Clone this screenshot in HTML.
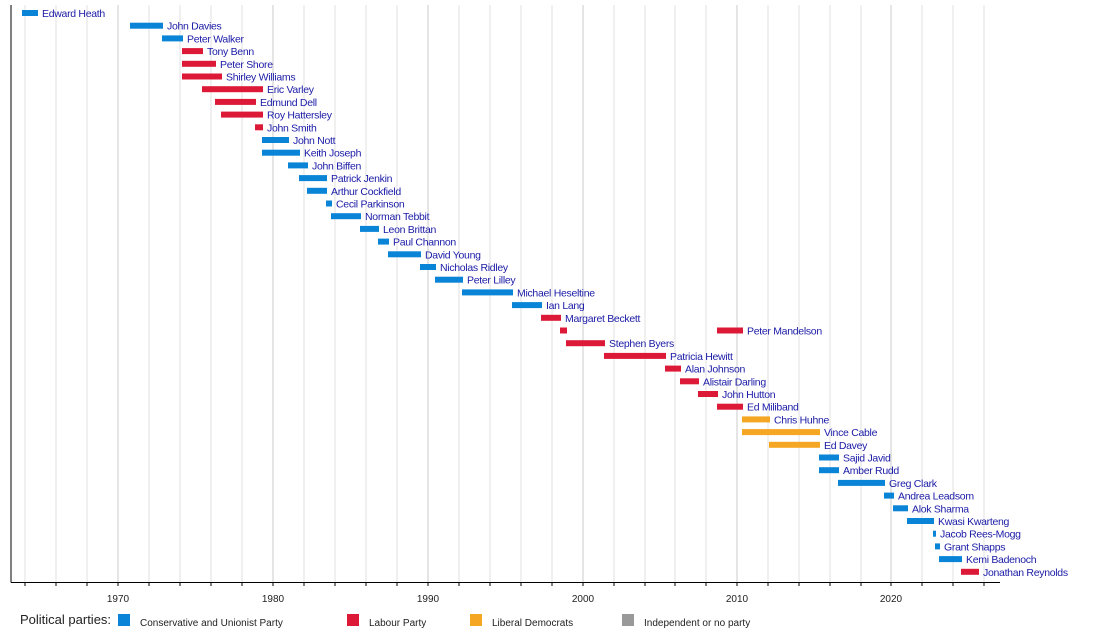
<!DOCTYPE html>
<html><head><meta charset="utf-8"><style>
body{margin:0;background:#fff;}
svg{display:block;font-family:"Liberation Sans",sans-serif;}
.l{font-size:10.5px;fill:#1a1aa6;letter-spacing:-0.3px}
.b{fill:#0a84d6}.r{fill:#dc1a37}.o{fill:#f5a623}
</style></head><body>
<svg width="1100" height="632" viewBox="0 0 1100 632">
<g stroke="#e2e2e2" stroke-width="1">
<line x1="25" y1="5" x2="25" y2="582"/><line x1="56" y1="5" x2="56" y2="582"/><line x1="87" y1="5" x2="87" y2="582"/>
<line x1="149" y1="5" x2="149" y2="582"/><line x1="180" y1="5" x2="180" y2="582"/><line x1="211" y1="5" x2="211" y2="582"/><line x1="242" y1="5" x2="242" y2="582"/>
<line x1="304" y1="5" x2="304" y2="582"/><line x1="335" y1="5" x2="335" y2="582"/><line x1="366" y1="5" x2="366" y2="582"/><line x1="397" y1="5" x2="397" y2="582"/>
<line x1="459" y1="5" x2="459" y2="582"/><line x1="490" y1="5" x2="490" y2="582"/><line x1="521" y1="5" x2="521" y2="582"/><line x1="552" y1="5" x2="552" y2="582"/>
<line x1="614" y1="5" x2="614" y2="582"/><line x1="645" y1="5" x2="645" y2="582"/><line x1="675" y1="5" x2="675" y2="582"/><line x1="706" y1="5" x2="706" y2="582"/>
<line x1="768" y1="5" x2="768" y2="582"/><line x1="799" y1="5" x2="799" y2="582"/><line x1="830" y1="5" x2="830" y2="582"/><line x1="861" y1="5" x2="861" y2="582"/>
<line x1="922" y1="5" x2="922" y2="582"/><line x1="953" y1="5" x2="953" y2="582"/><line x1="984" y1="5" x2="984" y2="582"/>
</g>
<g stroke="#cbcbcb" stroke-width="1">
<line x1="118" y1="5" x2="118" y2="582"/><line x1="273" y1="5" x2="273" y2="582"/><line x1="428" y1="5" x2="428" y2="582"/><line x1="583" y1="5" x2="583" y2="582"/><line x1="737" y1="5" x2="737" y2="582"/><line x1="891" y1="5" x2="891" y2="582"/>
</g>
<g stroke="#000" stroke-width="1">
<line x1="11" y1="5" x2="11" y2="582.5"/><line x1="11" y1="582.5" x2="1000" y2="582.5"/>
<path d="M25 582v4M56 582v4M87 582v4M118 582v4M149 582v4M180 582v4M211 582v4M242 582v4M273 582v4M304 582v4M335 582v4M366 582v4M397 582v4M428 582v4M459 582v4M490 582v4M521 582v4M552 582v4M583 582v4M614 582v4M645 582v4M675 582v4M706 582v4M737 582v4M768 582v4M799 582v4M830 582v4M861 582v4M891 582v4M922 582v4M953 582v4M984 582v4"/>
</g>
<g font-size="10" fill="#222" text-anchor="middle">
<text x="118" y="602">1970</text><text x="273" y="602">1980</text><text x="428" y="602">1990</text><text x="583" y="602">2000</text><text x="737" y="602">2010</text><text x="891" y="602">2020</text>
</g>
<g>
<rect class="b" x="22" y="10" width="16" height="6"/><text class="l" x="42" y="17">Edward Heath</text>
<rect class="b" x="130" y="22.7" width="33" height="6"/><text class="l" x="167" y="29.7">John Davies</text>
<rect class="b" x="162" y="35.4" width="21" height="6"/><text class="l" x="187" y="42.4">Peter Walker</text>
<rect class="r" x="182" y="48.1" width="21" height="6"/><text class="l" x="207" y="55.1">Tony Benn</text>
<rect class="r" x="182" y="60.8" width="34" height="6"/><text class="l" x="220" y="67.8">Peter Shore</text>
<rect class="r" x="182" y="73.5" width="40" height="6"/><text class="l" x="226" y="80.5">Shirley Williams</text>
<rect class="r" x="202" y="86.2" width="61" height="6"/><text class="l" x="267" y="93.2">Eric Varley</text>
<rect class="r" x="215" y="98.9" width="41" height="6"/><text class="l" x="260" y="105.9">Edmund Dell</text>
<rect class="r" x="221" y="111.6" width="42" height="6"/><text class="l" x="267" y="118.6">Roy Hattersley</text>
<rect class="r" x="255" y="124.3" width="8" height="6"/><text class="l" x="267" y="131.3">John Smith</text>
<rect class="b" x="262" y="137" width="27" height="6"/><text class="l" x="293" y="144">John Nott</text>
<rect class="b" x="262" y="149.7" width="38" height="6"/><text class="l" x="304" y="156.7">Keith Joseph</text>
<rect class="b" x="288" y="162.4" width="20" height="6"/><text class="l" x="312" y="169.4">John Biffen</text>
<rect class="b" x="299" y="175.1" width="28" height="6"/><text class="l" x="331" y="182.1">Patrick Jenkin</text>
<rect class="b" x="307" y="187.8" width="20" height="6"/><text class="l" x="331" y="194.8">Arthur Cockfield</text>
<rect class="b" x="326" y="200.5" width="6" height="6"/><text class="l" x="336" y="207.5">Cecil Parkinson</text>
<rect class="b" x="331" y="213.2" width="30" height="6"/><text class="l" x="365" y="220.2">Norman Tebbit</text>
<rect class="b" x="360" y="225.9" width="19" height="6"/><text class="l" x="383" y="232.9">Leon Brittan</text>
<rect class="b" x="378" y="238.6" width="11" height="6"/><text class="l" x="393" y="245.6">Paul Channon</text>
<rect class="b" x="388" y="251.3" width="33" height="6"/><text class="l" x="425" y="258.3">David Young</text>
<rect class="b" x="420" y="264" width="16" height="6"/><text class="l" x="440" y="271">Nicholas Ridley</text>
<rect class="b" x="435" y="276.7" width="28" height="6"/><text class="l" x="467" y="283.7">Peter Lilley</text>
<rect class="b" x="462" y="289.4" width="51" height="6"/><text class="l" x="517" y="296.4">Michael Heseltine</text>
<rect class="b" x="512" y="302.1" width="30" height="6"/><text class="l" x="546" y="309.1">Ian Lang</text>
<rect class="r" x="541" y="314.8" width="20" height="6"/><text class="l" x="565" y="321.8">Margaret Beckett</text>
<rect class="r" x="560" y="327.5" width="7" height="6"/><rect class="r" x="717" y="327.5" width="26" height="6"/><text class="l" x="747" y="334.5">Peter Mandelson</text>
<rect class="r" x="566" y="340.2" width="39" height="6"/><text class="l" x="609" y="347.2">Stephen Byers</text>
<rect class="r" x="604" y="352.9" width="62" height="6"/><text class="l" x="670" y="359.9">Patricia Hewitt</text>
<rect class="r" x="665" y="365.6" width="16" height="6"/><text class="l" x="685" y="372.6">Alan Johnson</text>
<rect class="r" x="680" y="378.3" width="19" height="6"/><text class="l" x="703" y="385.3">Alistair Darling</text>
<rect class="r" x="698" y="391" width="20" height="6"/><text class="l" x="722" y="398">John Hutton</text>
<rect class="r" x="717" y="403.7" width="26" height="6"/><text class="l" x="747" y="410.7">Ed Miliband</text>
<rect class="o" x="742" y="416.4" width="28" height="6"/><text class="l" x="774" y="423.4">Chris Huhne</text>
<rect class="o" x="742" y="429.1" width="78" height="6"/><text class="l" x="824" y="436.1">Vince Cable</text>
<rect class="o" x="769" y="441.8" width="51" height="6"/><text class="l" x="824" y="448.8">Ed Davey</text>
<rect class="b" x="819" y="454.5" width="20" height="6"/><text class="l" x="843" y="461.5">Sajid Javid</text>
<rect class="b" x="819" y="467.2" width="20" height="6"/><text class="l" x="843" y="474.2">Amber Rudd</text>
<rect class="b" x="838" y="479.9" width="47" height="6"/><text class="l" x="889" y="486.9">Greg Clark</text>
<rect class="b" x="884" y="492.6" width="10" height="6"/><text class="l" x="898" y="499.6">Andrea Leadsom</text>
<rect class="b" x="893" y="505.3" width="15" height="6"/><text class="l" x="912" y="512.3">Alok Sharma</text>
<rect class="b" x="907" y="518" width="27" height="6"/><text class="l" x="938" y="525">Kwasi Kwarteng</text>
<rect class="b" x="933" y="530.7" width="3" height="6"/><text class="l" x="940" y="537.7">Jacob Rees-Mogg</text>
<rect class="b" x="935" y="543.4" width="5" height="6"/><text class="l" x="944" y="550.4">Grant Shapps</text>
<rect class="b" x="939" y="556.1" width="23" height="6"/><text class="l" x="966" y="563.1">Kemi Badenoch</text>
<rect class="r" x="961" y="568.8" width="18" height="6"/><text class="l" x="983" y="575.8">Jonathan Reynolds</text>
</g>
<g font-size="10" fill="#222">
<text x="20" y="624" font-size="13">Political parties:</text>
<rect class="b" x="118" y="614" width="12" height="12"/><text x="140" y="626">Conservative and Unionist Party</text>
<rect class="r" x="347" y="614" width="12" height="12"/><text x="369" y="626">Labour Party</text>
<rect class="o" x="470" y="614" width="12" height="12"/><text x="492" y="626">Liberal Democrats</text>
<rect fill="#999" x="622" y="614" width="12" height="12"/><text x="644" y="626">Independent or no party</text>
</g>
</svg>
</body></html>
